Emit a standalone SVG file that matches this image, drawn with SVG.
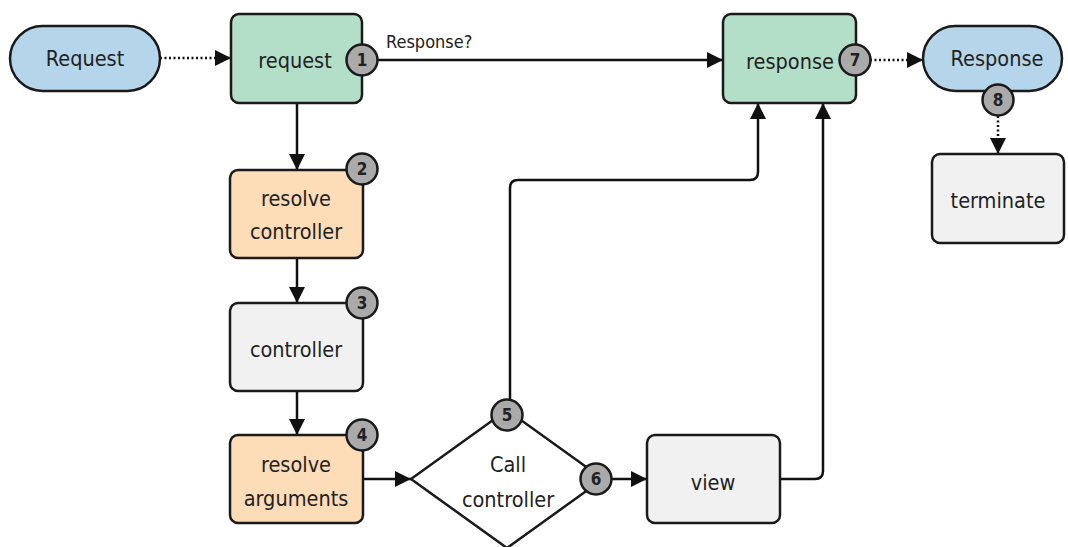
<svg xmlns="http://www.w3.org/2000/svg" width="1068" height="547" viewBox="0 0 1068 547">
<defs>
<marker id="ah" viewBox="0 0 10 10" refX="10" refY="5" markerWidth="6.5" markerHeight="6.5" orient="auto-start-reverse" markerUnits="strokeWidth">
<path d="M0,0 L10,5 L0,10 z" fill="#111"/>
</marker>
<style>
.t{font-family:"DejaVu Sans Condensed","Liberation Sans",sans-serif;font-size:21.5px;fill:#222;text-anchor:middle;dominant-baseline:central}
.s{font-family:"DejaVu Sans Condensed","Liberation Sans",sans-serif;font-size:18px;fill:#222}
.b{font-family:"DejaVu Sans Condensed","Liberation Sans",sans-serif;font-size:17px;font-weight:600;fill:#222;text-anchor:middle;dominant-baseline:central}
.n{stroke:#1a1a1a;stroke-width:2.5}
.blue{fill:#b4d5ea}
.green{fill:#b3dec8}
.orange{fill:#fddcb8}
.gray{fill:#f1f1f1}
.badge{fill:#aaaaaa;stroke:#1a1a1a;stroke-width:2.5}
.c{fill:none;stroke:#111;stroke-width:2.5;marker-end:url(#ah)}
.d{stroke-dasharray:2 2.5}
</style>
</defs>
<rect width="1068" height="547" fill="#ffffff"/>
<g id="connectors">
<path class="c d" d="M160,58 L231,58"/>
<path class="c" d="M377,60 L723,60"/>
<path class="c" d="M297,103 L297,170"/>
<path class="c" d="M297,258 L297,303"/>
<path class="c" d="M297,391 L297,435"/>
<path class="c" d="M363,479 L411,479"/>
<path class="c" d="M611,479 L647,479"/>
<path class="c" d="M510,400 L510,188 Q510,180 518,180 L750,180 Q758,180 758,172 L758,103"/>
<path class="c" d="M780,479 L815,479 Q823,479 823,471 L823,103"/>
<path class="c d" d="M870,60 L923,60"/>
<path class="c d" d="M998,116 L998,154"/>
<text class="s" x="386" y="48">Response?</text>
</g>
<g id="n-request-start">
<rect class="n blue" x="10" y="26" width="150" height="65" rx="32.5"/>
<text class="t" x="85" y="58">Request</text>
</g>
<g id="n-request">
<rect class="n green" x="231" y="14" width="131" height="89" rx="8"/>
<text class="t" x="295" y="60">request</text>
<circle class="badge" cx="362" cy="60" r="15.5"/>
<text class="b" x="362" y="60">1</text>
</g>
<g id="n-resolve-controller">
<rect class="n orange" x="230" y="170" width="133" height="88" rx="8"/>
<text class="t" x="296" y="198">resolve</text>
<text class="t" x="296" y="231">controller</text>
<circle class="badge" cx="362" cy="169" r="15.5"/>
<text class="b" x="362" y="169">2</text>
</g>
<g id="n-controller">
<rect class="n gray" x="230" y="303" width="133" height="88" rx="8"/>
<text class="t" x="296" y="349">controller</text>
<circle class="badge" cx="362" cy="303" r="15.5"/>
<text class="b" x="362" y="303">3</text>
</g>
<g id="n-resolve-arguments">
<rect class="n orange" x="230" y="435" width="133" height="88" rx="8"/>
<text class="t" x="296" y="464">resolve</text>
<text class="t" x="296" y="498">arguments</text>
<circle class="badge" cx="362" cy="435" r="15.5"/>
<text class="b" x="362" y="435">4</text>
</g>
<g id="n-call-controller">
<path class="n" fill="#ffffff" d="M411,479 L507,410 L603,479 L507,548 z"/>
<text class="t" x="508" y="464">Call</text>
<text class="t" x="508" y="499">controller</text>
<circle class="badge" cx="507" cy="415" r="15.5"/>
<text class="b" x="507" y="415">5</text>
<circle class="badge" cx="596" cy="479" r="15.5"/>
<text class="b" x="596" y="479">6</text>
</g>
<g id="n-view">
<rect class="n gray" x="647" y="435" width="133" height="88" rx="8"/>
<text class="t" x="713" y="482">view</text>
</g>
<g id="n-response">
<rect class="n green" x="723" y="14" width="133" height="89" rx="8"/>
<text class="t" x="790" y="61">response</text>
<circle class="badge" cx="855" cy="60" r="15.5"/>
<text class="b" x="855" y="60">7</text>
</g>
<g id="n-response-end">
<rect class="n blue" x="923" y="26" width="139" height="65" rx="32.5"/>
<text class="t" x="997" y="58">Response</text>
<circle class="badge" cx="998" cy="100" r="15.5"/>
<text class="b" x="998" y="100">8</text>
</g>
<g id="n-terminate">
<rect class="n gray" x="932" y="154" width="132" height="89" rx="8"/>
<text class="t" x="998" y="200">terminate</text>
</g>
</svg>
